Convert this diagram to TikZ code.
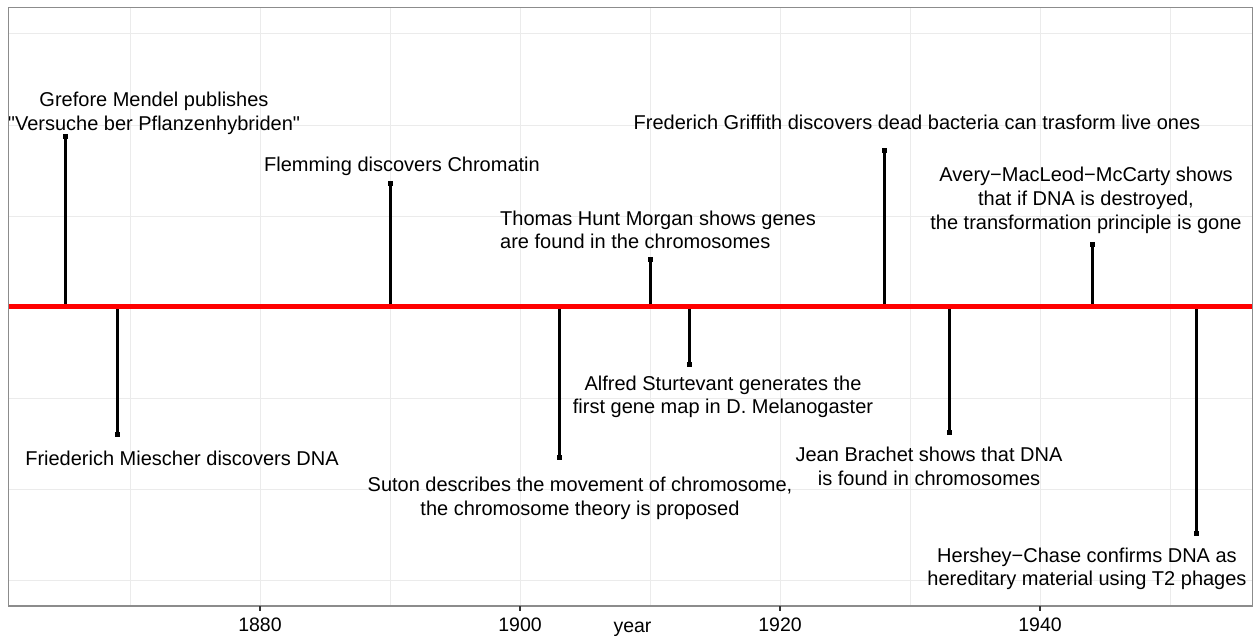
\documentclass[tikz,border=0pt]{standalone}
\usepackage{fontspec}
\setmainfont{Liberation Sans}
\definecolor{gridc}{HTML}{EBEBEB}
\definecolor{bordc}{HTML}{8C8C8C}
\definecolor{tickc}{HTML}{333333}
\begin{document}
\begin{tikzpicture}[x=1pt,y=-1pt,
  lbl/.style={anchor=base, inner sep=0pt, font=\fontsize{20}{23.8}\selectfont},
  axlbl/.style={anchor=base, inner sep=0pt, font=\fontsize{19.5}{23}\selectfont},
  grid line/.style={draw=gridc, line width=1pt},
  minor line/.style={draw=gridc, line width=0.6pt},
  stem/.style={draw=black, line width=3pt},
  endsq/.style={fill=black, minimum size=5pt, inner sep=0pt, outer sep=0pt},
  timeline/.style={draw=red, line width=5pt},
  tickmark/.style={draw=tickc, line width=1.2pt}]
\useasboundingbox (0,0) rectangle (1253,637);
\fill[white] (0,0) rectangle (1253,637);
% grid
\foreach \x in {130,390,650,910,1170} \draw[minor line] (\x,7.5) -- (\x,606);
\foreach \x in {260,520,780,1040} \draw[grid line] (\x,7.5) -- (\x,606);
\foreach \y in {33,216,398,580} \draw[minor line] (8.5,\y) -- (1252.5,\y);
\foreach \y in {125,489} \draw[grid line] (8.5,\y) -- (1252.5,\y);
% event base points on the timeline
\coordinate (lineL) at (8.5,306.5);
\coordinate (lineR) at (1252.5,306.5);
\coordinate (mendelB) at (65,306.5);
\coordinate (miescherB) at (117,306.5);
\coordinate (flemmingB) at (390,306.5);
\coordinate (suttonB) at (559,306.5);
\coordinate (morganB) at (650,306.5);
\coordinate (sturtevantB) at (689,306.5);
\coordinate (griffithB) at (884,306.5);
\coordinate (brachetB) at (949,306.5);
\coordinate (averyB) at (1092,306.5);
\coordinate (hersheyB) at (1196,306.5);
% end markers
\node[endsq] (mendelE) at (65,136) {};
\node[endsq] (miescherE) at (117,434) {};
\node[endsq] (flemmingE) at (390,183) {};
\node[endsq] (suttonE) at (559,457) {};
\node[endsq] (morganE) at (650,259) {};
\node[endsq] (sturtevantE) at (689,364) {};
\node[endsq] (griffithE) at (884,150) {};
\node[endsq] (brachetE) at (949,432) {};
\node[endsq] (averyE) at (1092,244) {};
\node[endsq] (hersheyE) at (1196,533) {};
% stems
\foreach \e in {mendel,miescher,flemming,sutton,morgan,sturtevant,griffith,brachet,avery,hershey}
  \draw[stem] (\e B) -- (\e E.center);
% timeline
\draw[timeline] (lineL) -- (lineR);
% labels
\node[lbl] (mendelT) at (154,106.7) {\begin{tabular}[t]{@{}c@{}}Grefore Mendel publishes\\\textquotedbl Versuche ber Pflanzenhybriden\textquotedbl\end{tabular}};
\node[lbl] (flemmingT) at (402,171.7) {Flemming discovers Chromatin};
\node[lbl,anchor=base west] (morganT) at (500,225) {\begin{tabular}[t]{@{}l@{}}Thomas Hunt Morgan shows genes\\are found in the chromosomes\end{tabular}};
\node[lbl] (griffithT) at (917,129.5) {Frederich Griffith discovers dead bacteria can trasform live ones};
\node[lbl] (averyT) at (1086,181.7) {\begin{tabular}[t]{@{}c@{}}Avery−MacLeod−McCarty shows\\that if DNA is destroyed,\\the transformation principle is gone\end{tabular}};
\node[lbl] (miescherT) at (182,465.7) {Friederich Miescher discovers DNA};
\node[lbl] (suttonT) at (580,491.7) {\begin{tabular}[t]{@{}c@{}}Suton describes the movement of chromosome,\\the chromosome theory is proposed\end{tabular}};
\node[lbl] (sturtevantT) at (723,390) {\begin{tabular}[t]{@{}c@{}}Alfred Sturtevant generates the\\first gene map in D. Melanogaster\end{tabular}};
\node[lbl] (brachetT) at (929,461.7) {\begin{tabular}[t]{@{}c@{}}Jean Brachet shows that DNA\\is found in chromosomes\end{tabular}};
\node[lbl] (hersheyT) at (1087,562) {\begin{tabular}[t]{@{}c@{}}Hershey−Chase confirms DNA as\\hereditary material using T2 phages\end{tabular}};
% panel border
\draw[bordc, line width=1.2pt] (8.5,7.5) rectangle (1252.5,606);
% axis ticks and labels
\foreach \x/\yr in {260/1880,520/1900,780/1920,1040/1940} {
  \draw[tickmark] (\x,606) -- (\x,610.5);
  \node[axlbl] (tick\yr) at (\x,631.7) {\yr};
}
\node[axlbl] (xtitle) at (632.5,632.5) {year};
\end{tikzpicture}
\end{document}
